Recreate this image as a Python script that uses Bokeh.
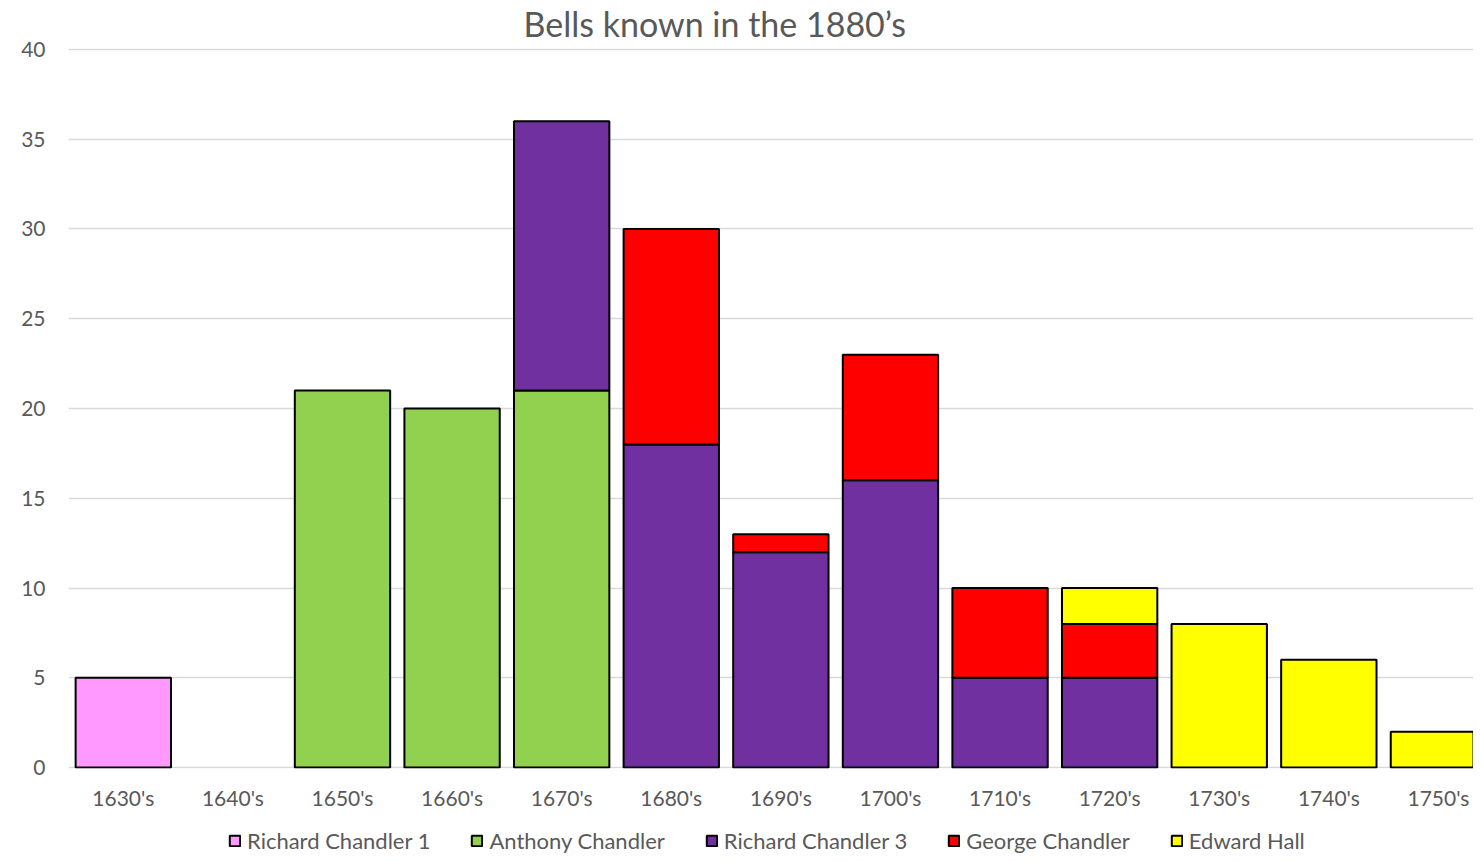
from bokeh.plotting import figure
from bokeh.layouts import column
from bokeh.models import Range1d, FixedTicker, Legend, LegendItem, ColumnDataSource
from bokeh.embed import file_html
from bokeh.resources import INLINE

decades = ["1630's", "1640's", "1650's", "1660's", "1670's", "1680's", "1690's",
           "1700's", "1710's", "1720's", "1730's", "1740's", "1750's"]
series_names = ["Richard Chandler 1", "Anthony Chandler", "Richard Chandler 3",
                "George Chandler", "Edward Hall"]
richard1 = [5, 0, 0, 0, 0, 0, 0, 0, 0, 0, 0, 0, 0]
anthony = [0, 0, 21, 20, 21, 0, 0, 0, 0, 0, 0, 0, 0]
richard3 = [0, 0, 0, 0, 15, 18, 12, 16, 5, 5, 0, 0, 0]
george = [0, 0, 0, 0, 0, 12, 1, 7, 5, 3, 0, 0, 0]
edward = [0, 0, 0, 0, 0, 0, 0, 0, 0, 2, 8, 6, 2]
colors = ["#FF99FF", "#92D050", "#7030A0", "#FF0000", "#FFFF00"]
title_text = "Bells known in the 1880\u2019s"

TEXT = "#595959"
FONT = "Lato"
W = 1473

# ---- main chart ----
p = figure(width=W, height=814, output_backend="svg", toolbar_location=None,
           x_range=Range1d(-0.5, 12.32), y_range=Range1d(-0.05, 40.05),
           min_border_left=68, min_border_right=0, min_border_top=48, min_border_bottom=46)
p.outline_line_color = None
p.background_fill_color = "white"
p.border_fill_color = "white"

p.title.text = title_text
p.title.align = "left"
p.title.vertical_align = "top"
p.title.text_font = FONT
p.title.text_font_size = "34px"
p.title.text_font_style = "normal"
p.title.text_color = TEXT
p.title.offset = 455
p.title.standoff = 5

all_series = [richard1, anthony, richard3, george, edward]
base = [0] * len(decades)
for name, vals, col in zip(series_names, all_series, colors):
    xs, bots, tops = [], [], []
    for i, v in enumerate(vals):
        if v > 0:
            xs.append(i)
            bots.append(base[i])
            tops.append(base[i] + v)
    base = [b + v for b, v in zip(base, vals)]
    src = ColumnDataSource(dict(x=xs, bottom=bots, top=tops))
    p.vbar(x="x", bottom="bottom", top="top", width=0.87, source=src,
           fill_color=col, line_color="black", line_width=2)

p.xgrid.visible = False
p.ygrid.ticker = FixedTicker(ticks=list(range(0, 41, 5)))
p.ygrid.grid_line_color = "#D9D9D9"
p.ygrid.grid_line_width = 1.5

p.yaxis.ticker = FixedTicker(ticks=list(range(0, 41, 5)))
p.xaxis.ticker = FixedTicker(ticks=list(range(len(decades))))
p.xaxis.major_label_overrides = {i: d for i, d in enumerate(decades)}
for ax in (p.xaxis, p.yaxis):
    ax.axis_line_color = None
    ax.major_tick_line_color = None
    ax.minor_tick_line_color = None
    ax.major_tick_in = 0
    ax.major_tick_out = 0
    ax.minor_tick_in = 0
    ax.minor_tick_out = 0
    ax.major_label_text_font = FONT
    ax.major_label_text_font_size = "21px"
    ax.major_label_text_color = TEXT
p.yaxis.major_label_standoff = 23
p.xaxis.major_label_standoff = 16

# ---- legend strip (key swatches only; no marks drawn) ----
lg = figure(width=W, height=40, output_backend="svg", toolbar_location=None,
            x_range=p.x_range, y_range=Range1d(0, 1),
            min_border_left=68, min_border_right=0, min_border_top=0, min_border_bottom=0)
lg.axis.visible = False
lg.grid.visible = False
lg.outline_line_color = None
lg.background_fill_color = "white"
lg.border_fill_color = "white"
items = []
for name, col in zip(series_names, colors):
    key_src = ColumnDataSource(dict(x=[float("nan")], top=[float("nan")]))
    r = lg.vbar(x="x", top="top", width=0.87, source=key_src,
                fill_color=col, line_color="black", line_width=2)
    items.append(LegendItem(label=name, renderers=[r]))
legend = Legend(items=items, orientation="horizontal", location=(160, 0),
                padding=0, margin=0, spacing=40, label_standoff=6,
                glyph_width=13, glyph_height=13,
                label_text_font=FONT, label_text_font_size="22px",
                label_text_color=TEXT, border_line_color=None,
                background_fill_alpha=0)
lg.add_layout(legend, "center")

layout = column(p, lg, spacing=0)
open("out.html", "w").write(file_html(layout, INLINE))
